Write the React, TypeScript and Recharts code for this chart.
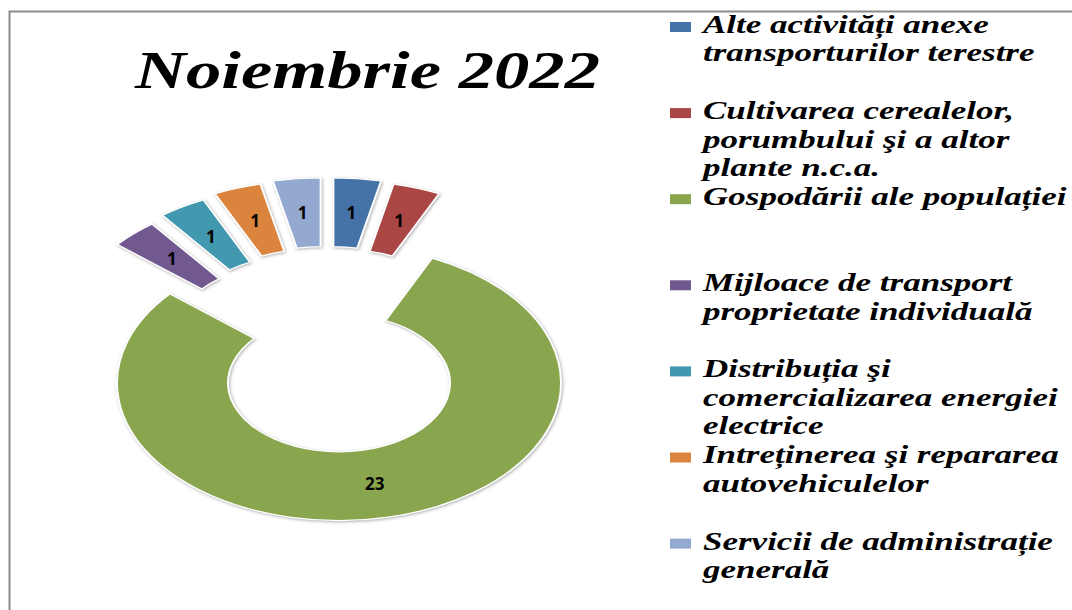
import { PieChart, Pie, Cell, Sector } from 'recharts'

const categories = [
  'Alte activități anexe transporturilor terestre',
  'Cultivarea cerealelor, porumbului şi a altor plante n.c.a.',
  'Gospodării ale populației',
  'Mijloace de transport proprietate individuală',
  'Distribuția şi comercializarea energiei electrice',
  'Intreținerea şi repararea autovehiculelor',
  'Servicii de administrație generală',
]
const values = [1, 1, 23, 1, 1, 1, 1]
const colors = ['#4572A7', '#AA4643', '#89A54E', '#71588F', '#4198AF', '#DB843D', '#93A9CF']
// how each legend entry wraps in the original
const legendLines = [
  ['Alte activități anexe', 'transporturilor terestre'],
  ['Cultivarea cerealelor,', 'porumbului şi a altor', 'plante n.c.a.'],
  ['Gospodării ale populației'],
  ['Mijloace de transport', 'proprietate individuală'],
  ['Distribuția şi', 'comercializarea energiei', 'electrice'],
  ['Intreținerea şi repararea', 'autovehiculelor'],
  ['Servicii de administrație', 'generală'],
]
const title = 'Noiembrie 2022'

const data = categories.map((name, i) => ({ name, value: values[i] }))
const maxValue = Math.max(...values)

const RADIAN = Math.PI / 180
const SQUASH = 0.62 // the original doughnut is stretched wide
const EXPLODE_X = 59
const EXPLODE_Y = 68
const EXPLODE_SHIFT = -12

function explodeOffset(value: number, midAngle: number) {
  if (value >= maxValue) return { dx: 0, dy: 0 }
  return {
    dx: EXPLODE_X * Math.cos(-midAngle * RADIAN) + EXPLODE_SHIFT,
    dy: EXPLODE_Y * Math.sin(-midAngle * RADIAN),
  }
}

function SquashedSector(props: any) {
  const { cx, cy, innerRadius, outerRadius, startAngle, endAngle, midAngle, fill, value } = props
  const { dx, dy } = explodeOffset(value, midAngle)
  return (
    <g transform={`translate(${dx} ${dy})`} style={{ filter: 'drop-shadow(1px 1px 1.5px rgba(0,0,0,0.3))' }}>
      <g transform={`translate(0 ${cy}) scale(1 ${SQUASH}) translate(0 ${-cy})`}>
        <Sector
          cx={cx}
          cy={cy}
          innerRadius={innerRadius}
          outerRadius={outerRadius}
          startAngle={startAngle}
          endAngle={endAngle}
          fill={fill}
          stroke="#fff"
          strokeWidth={2}
        />
      </g>
    </g>
  )
}

function renderLabel(props: any) {
  const { cx, cy, innerRadius, outerRadius, midAngle, value } = props
  const { dx, dy } = explodeOffset(value, midAngle)
  const r = (innerRadius + outerRadius) / 2
  const x = cx + r * Math.cos(-midAngle * RADIAN) + dx
  const y = cy + r * Math.sin(-midAngle * RADIAN) * SQUASH + dy
  return (
    <text
      x={x}
      y={y}
      textAnchor="middle"
      dominantBaseline="central"
      fill="#000"
      fontFamily="'Open Sans', sans-serif"
      fontWeight={700}
      fontSize={17}
    >
      {value}
    </text>
  )
}

export default function App() {
  return (
    <div style={{ position: 'absolute', left: 0, top: 0, width: 1072, height: 610, background: '#fff' }}>
      <PieChart width={1072} height={610} margin={{ top: 0, right: 0, bottom: 0, left: 0 }}>
        <Pie
          data={data}
          dataKey="value"
          nameKey="name"
          cx={339}
          cy={383}
          innerRadius={111}
          outerRadius={222}
          startAngle={90}
          endAngle={-270}
          stroke="#fff"
          shape={SquashedSector}
          activeShape={SquashedSector}
          inactiveShape={SquashedSector}
          label={renderLabel}
          labelLine={false}
          isAnimationActive={false}
        >
          {data.map((d, i) => (
            <Cell key={d.name} fill={colors[i]} />
          ))}
        </Pie>
      </PieChart>

      <svg
        width={1072}
        height={610}
        style={{ position: 'absolute', left: 0, top: 0, pointerEvents: 'none' }}
      >
        <rect x={9.5} y={11.5} width={1200} height={800} fill="none" stroke="#8a8a8a" strokeWidth={2} />
        <text
          x={135}
          y={88}
          textLength={465}
          lengthAdjust="spacingAndGlyphs"
          fontFamily="'Liberation Serif', serif"
          fontStyle="italic"
          fontWeight={700}
          fontSize={52}
          fill="#000"
        >
          {title}
        </text>
        {legendLines.map((lines, i) => {
          const baseY = 33 + i * 86.1
          return (
            <g key={categories[i]}>
              <rect x={670} y={baseY - 11} width={21} height={10} fill={colors[i]} />
              <g transform={`translate(703 0) scale(1.4 1)`}>
                {lines.map((line, j) => (
                  <text
                    key={j}
                    x={0}
                    y={baseY + j * 28.5}
                    fontFamily="'Liberation Serif', serif"
                    fontStyle="italic"
                    fontWeight={700}
                    fontSize={25}
                    fill="#000"
                  >
                    {line}
                  </text>
                ))}
              </g>
            </g>
          )
        })}
      </svg>
    </div>
  )
}
